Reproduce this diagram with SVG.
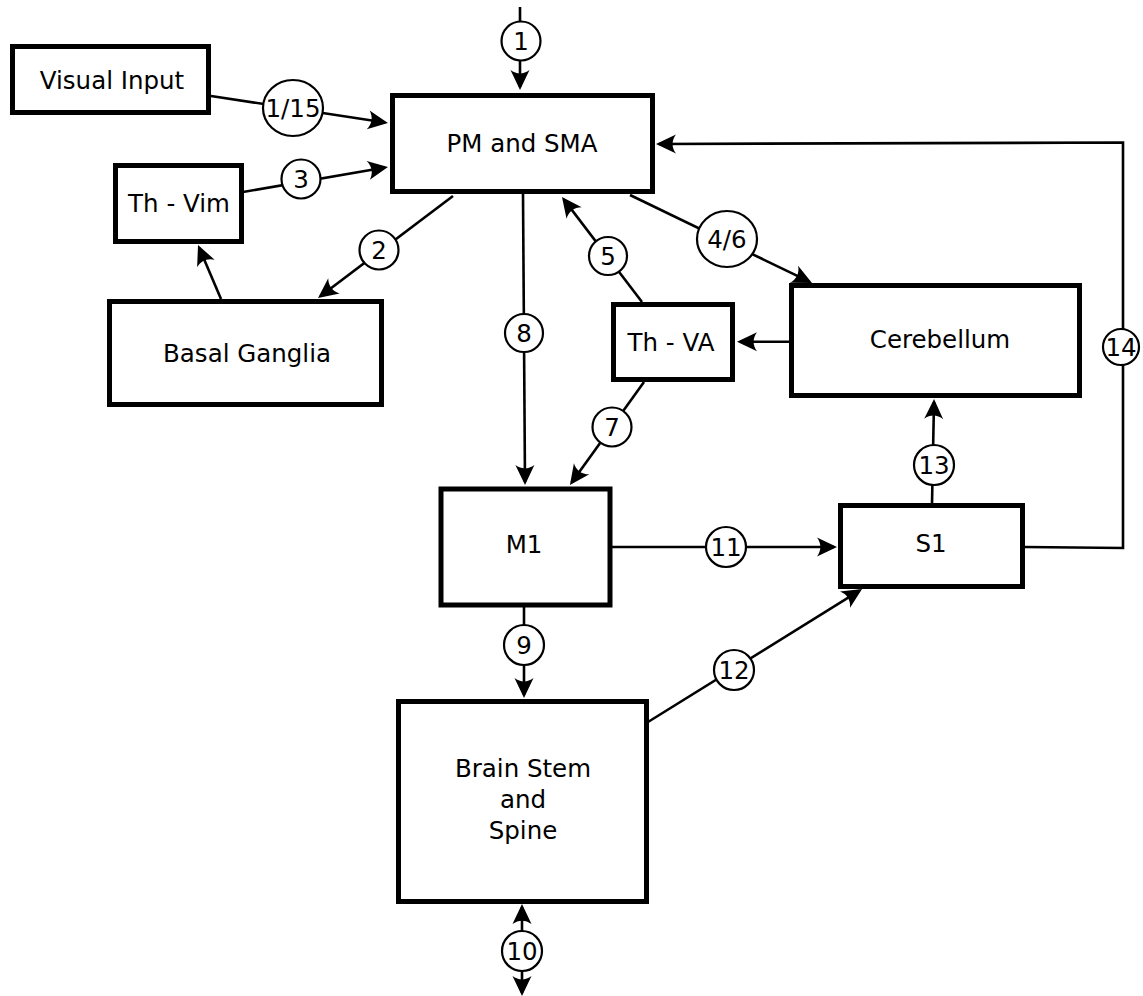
<svg xmlns="http://www.w3.org/2000/svg" width="1143" height="996" viewBox="0 0 1143 996">
<style>
.box{fill:#fff;stroke:#000;stroke-width:5}
.t{font-family:"DejaVu Sans",sans-serif;font-size:24.5px;fill:#000;text-anchor:middle}
.c{fill:none;stroke:#000;stroke-width:2.6}
.a{marker-end:url(#ah)}
.lbl{fill:#fff;stroke:#000;stroke-width:2.2}
</style>
<defs>
<marker id="ah" markerUnits="userSpaceOnUse" markerWidth="40" markerHeight="40" refX="0" refY="0" orient="auto-start-reverse" overflow="visible" viewBox="-20 -20 40 40">
<path d="M3,0 L-17,-9.5 C-12.5,-3.5 -12.5,3.5 -17,9.5 Z" fill="#000"/>
</marker>
</defs>
<rect width="1143" height="996" fill="#fff"/>
<g id="nodes">
<g id="visual-input"><rect class="box" x="12.5" y="46.5" width="196" height="66"/><text class="t" x="112" y="89">Visual Input</text></g>
<g id="pm-sma"><rect class="box" x="392.5" y="95.5" width="260" height="96"/><text class="t" x="522" y="152">PM and SMA</text></g>
<g id="th-vim"><rect class="box" x="115.5" y="165.5" width="126" height="76"/><text class="t" x="179" y="212">Th - Vim</text></g>
<g id="basal-ganglia"><rect class="box" x="109.5" y="301.5" width="272" height="103"/><text class="t" x="247" y="362">Basal Ganglia</text></g>
<g id="th-va"><rect class="box" x="613.5" y="304.5" width="119" height="75"/><text class="t" x="671" y="351">Th - VA</text></g>
<g id="cerebellum"><rect class="box" x="791.5" y="285.5" width="288" height="110"/><text class="t" x="940" y="348">Cerebellum</text></g>
<g id="m1"><rect class="box" x="441" y="489" width="169" height="116"/><text class="t" x="524" y="553">M1</text></g>
<g id="s1"><rect class="box" x="840.5" y="505.5" width="182" height="81"/><text class="t" x="931" y="552">S1</text></g>
<g id="brain-stem"><rect class="box" x="398.5" y="701.5" width="248" height="200"/><text class="t" x="523" y="777">Brain Stem</text><text class="t" x="523" y="808">and</text><text class="t" x="523" y="839">Spine</text></g>
</g>
<g id="connectors">
<line class="c a" x1="520" y1="7" x2="520" y2="87"/>
<line class="c a" x1="211" y1="96" x2="385" y2="122.5"/>
<line class="c a" x1="243" y1="192" x2="385" y2="167.5"/>
<line class="c a" x1="453" y1="196" x2="320.4" y2="296.2"/>
<line class="c a" x1="221" y1="299" x2="199.2" y2="247.8"/>
<line class="c a" x1="630" y1="195" x2="809.3" y2="281.7"/>
<line class="c a" x1="642" y1="302" x2="563.8" y2="199.4"/>
<line class="c a" x1="789" y1="341.7" x2="740" y2="341.7"/>
<line class="c a" x1="523" y1="194" x2="525" y2="482"/>
<line class="c a" x1="644" y1="382" x2="571.7" y2="482.6"/>
<line class="c a" x1="612" y1="547" x2="834" y2="547"/>
<line class="c a" x1="524" y1="607" x2="524" y2="695"/>
<line class="c a" x1="648" y1="722" x2="859.5" y2="590.6"/>
<line class="c a" x1="932" y1="504" x2="934" y2="402"/>
<path class="c a" d="M1025,547 L1123,548 L1123,142.5 L659,144"/>
<line class="c a" x1="522" y1="907" x2="522" y2="993" marker-start="url(#ah)"/>
<g id="labels">
<circle class="lbl" cx="521" cy="41" r="19.5"/><text class="t" x="521" y="49.7">1</text>
<ellipse class="lbl" cx="293" cy="108" rx="30" ry="28"/><text class="t" x="293" y="116.7">1/15</text>
<circle class="lbl" cx="301" cy="179" r="19.5"/><text class="t" x="301" y="187.7">3</text>
<circle class="lbl" cx="379" cy="250" r="19.5"/><text class="t" x="379" y="258.7">2</text>
<circle class="lbl" cx="608" cy="256" r="19"/><text class="t" x="608" y="264.7">5</text>
<ellipse class="lbl" cx="727" cy="239" rx="30" ry="28"/><text class="t" x="727" y="247.7">4/6</text>
<circle class="lbl" cx="524" cy="333" r="19"/><text class="t" x="524" y="341.7">8</text>
<circle class="lbl" cx="612" cy="427" r="19.5"/><text class="t" x="612" y="435.7">7</text>
<circle class="lbl" cx="1121" cy="347" r="18"/><text class="t" x="1121" y="355.7">14</text>
<circle class="lbl" cx="934" cy="465" r="20"/><text class="t" x="934" y="473.7">13</text>
<circle class="lbl" cx="726" cy="547" r="20"/><text class="t" x="726" y="555.7">11</text>
<circle class="lbl" cx="524" cy="645" r="20"/><text class="t" x="524" y="653.7">9</text>
<circle class="lbl" cx="734" cy="670" r="20"/><text class="t" x="734" y="678.7">12</text>
<circle class="lbl" cx="522" cy="951" r="20"/><text class="t" x="522" y="959.7">10</text>
</g>
</g>
</svg>
